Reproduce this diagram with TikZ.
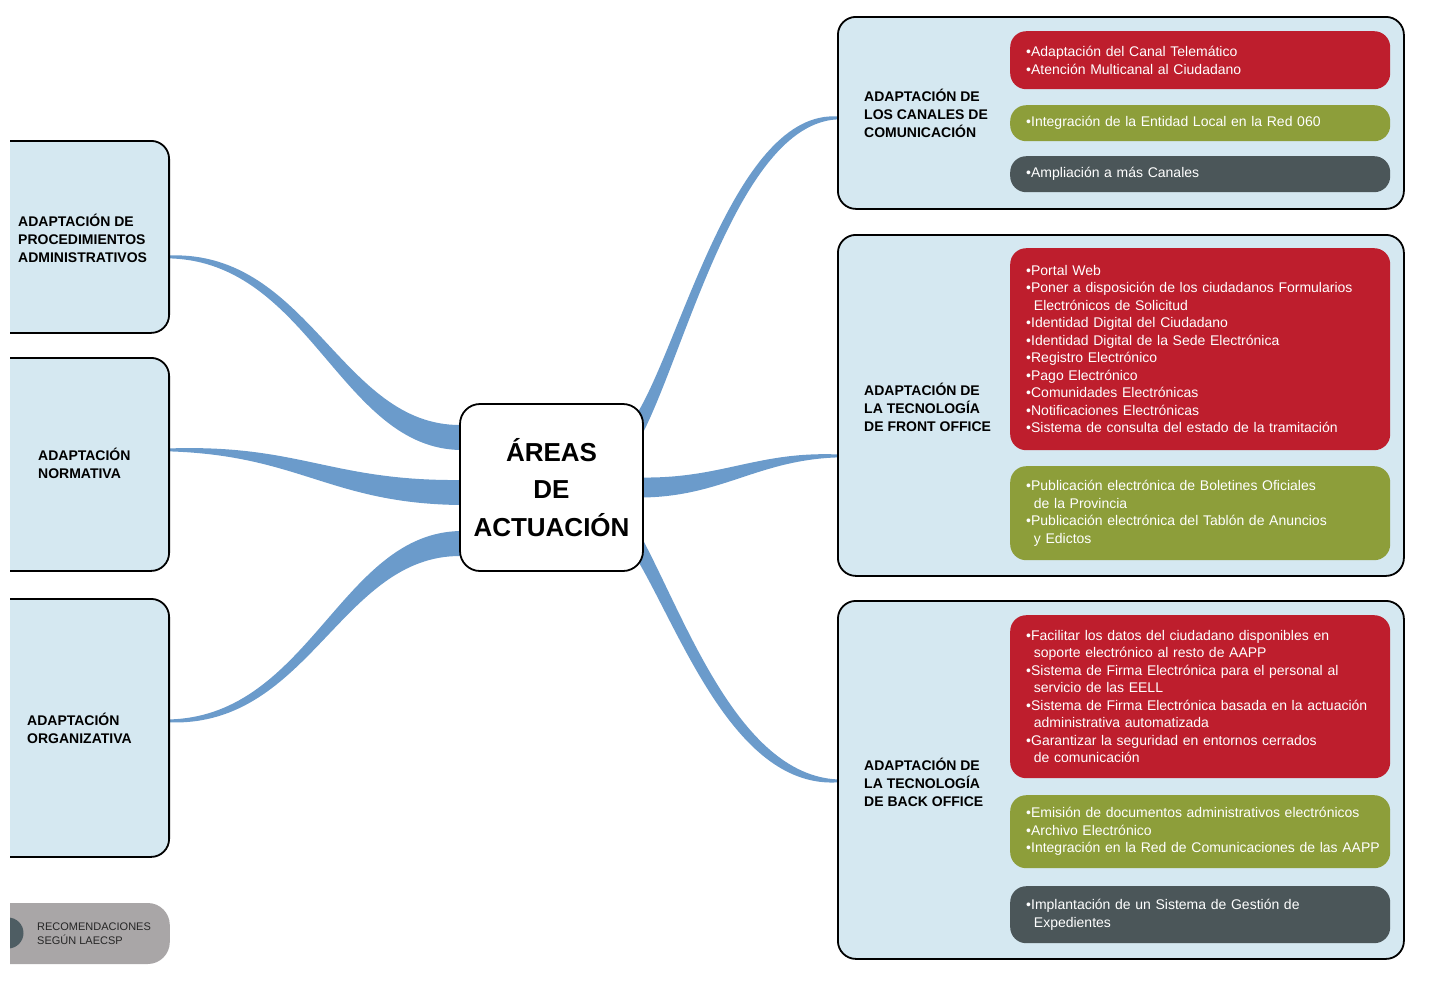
\documentclass[tikz,border=0pt]{standalone}
\usepackage{fontspec}
\setmainfont{Liberation Sans}
\usepackage{tikz}
\usetikzlibrary{calc,backgrounds}
\definecolor{pale}{HTML}{D5E8F1}
\definecolor{rojo}{HTML}{BE1E2D}
\definecolor{oliva}{HTML}{8D9E3A}
\definecolor{pizarra}{HTML}{4B5659}
\definecolor{cinta}{HTML}{6B9BCB}
\definecolor{leyenda}{HTML}{A9A6A7}
\definecolor{punto}{HTML}{4E5D63}
\tikzset{
  area/.style={draw=black,line width=1.8pt,fill=pale,rounded corners=18pt,inner sep=0pt},
  hub/.style={draw=black,line width=1.8pt,fill=white,rounded corners=20pt,minimum width=183pt,
    minimum height=167pt,align=center,font=\bfseries\fontsize{26}{37.5}\selectfont},
  head/.style={font=\bfseries\fontsize{14}{18}\selectfont,align=left,anchor=west,inner sep=0pt},
  item/.style={rounded corners=16pt,minimum width=380pt,text width=348pt,inner xsep=16pt,
    inner ysep=0pt,align=left,anchor=north west,text=white,font=\fontsize{14}{17.5}\selectfont},
  rib/.style={fill=cinta},
}
\newcommand{\sangria}{\hspace*{0.55em}}
\newcommand{\branch}[5]{%
  \fill[rib] ($(#1)+(0,-#5)$) .. controls ($(#1)+(#3)+(0,-0.9*#5)$) and ($(#2)+(#4)+(0,-0.45*#5)$) .. ($(#2)+(0,-1.5)$)
    -- ($(#2)+(0,1.5)$) .. controls ($(#2)+(#4)+(0,0.45*#5)$) and ($(#1)+(#3)+(0,0.9*#5)$) .. ($(#1)+(0,#5)$) -- cycle;
}

\begin{document}
\begin{tikzpicture}[x=1pt,y=-1pt]
\useasboundingbox (0,0) rectangle (1434,997);

\node[hub] (areas) at (551.5,487.5) {ÁREAS\\DE\\ACTUACIÓN};

\begin{scope}
\clip (10,0) rectangle (220,997);
\node[area,minimum width=200pt,minimum height=192pt,anchor=north east] (proc) at (170,140) {};
\node[area,minimum width=200pt,minimum height=213pt,anchor=north east] (norma) at (170,357) {};
\node[area,minimum width=200pt,minimum height=258pt,anchor=north east] (organ) at (170,598) {};
\node[fill=leyenda,rounded corners=22pt,minimum width=200pt,minimum height=61pt,anchor=east] (ley) at (170,933.5) {};
\fill[punto] (8,933) circle[radius=15.5pt];
\end{scope}
\node[head] (procT) at ($(proc.east)+(-152,1)$) {ADAPTACIÓN DE\\PROCEDIMIENTOS\\ADMINISTRATIVOS};
\node[head] (normaT) at ($(norma.east)+(-132,-1)$) {ADAPTACIÓN\\NORMATIVA};
\node[head] (organT) at ($(organ.east)+(-143,0)$) {ADAPTACIÓN\\ORGANIZATIVA};
\node[anchor=west,inner sep=0pt,align=left,text=black!85,font=\fontsize{11}{14}\selectfont] (leyT)
  at ($(ley.east)+(-133,0.5)$) {RECOMENDACIONES\\SEGÚN LAECSP};

\node[area,minimum width=566pt,minimum height=192pt,anchor=north west] (canales) at (837,16) {};
\node[area,minimum width=566pt,minimum height=341pt,anchor=north west] (front) at (837,234) {};
\node[area,minimum width=566pt,minimum height=358pt,anchor=north west] (back) at (837,600) {};
\node[head] (canalesT) at ($(canales.west)+(27,0)$) {ADAPTACIÓN DE\\LOS CANALES DE\\COMUNICACIÓN};
\node[head] (frontT) at ($(front.west)+(27,1.5)$) {ADAPTACIÓN DE\\LA TECNOLOGÍA\\DE FRONT OFFICE};
\node[head] (backT) at ($(back.west)+(27,2)$) {ADAPTACIÓN DE\\LA TECNOLOGÍA\\DE BACK OFFICE};

\node[item,fill=rojo,minimum height=58pt] (can1) at (1010,31)
  {•Adaptación del Canal Telemático\\•Atención Multicanal al Ciudadano};
\node[item,fill=oliva,minimum height=36pt] (can2) at (1010,105)
  {•Integración de la Entidad Local en la Red 060};
\node[item,fill=pizarra,minimum height=36pt] (can3) at (1010,156)
  {•Ampliación a más Canales};
\node[item,fill=rojo,minimum height=202pt] (fro1) at (1010,248)
  {•Portal Web\\•Poner a disposición de los ciudadanos Formularios\\\sangria Electrónicos de Solicitud\\
   •Identidad Digital del Ciudadano\\•Identidad Digital de la Sede Electrónica\\•Registro Electrónico\\
   •Pago Electrónico\\•Comunidades Electrónicas\\•Notificaciones Electrónicas\\
   •Sistema de consulta del estado de la tramitación};
\node[item,fill=oliva,minimum height=94pt] (fro2) at (1010,466)
  {•Publicación electrónica de Boletines Oficiales\\\sangria de la Provincia\\
   •Publicación electrónica del Tablón de Anuncios\\\sangria y Edictos};
\node[item,fill=rojo,minimum height=163pt] (bak1) at (1010,615)
  {•Facilitar los datos del ciudadano disponibles en\\\sangria soporte electrónico al resto de AAPP\\
   •Sistema de Firma Electrónica para el personal al\\\sangria servicio de las EELL\\
   •Sistema de Firma Electrónica basada en la actuación\\\sangria administrativa automatizada\\
   •Garantizar la seguridad en entornos cerrados\\\sangria de comunicación};
\node[item,fill=oliva,minimum height=73pt] (bak2) at (1010,795)
  {•Emisión de documentos administrativos electrónicos\\•Archivo Electrónico\\
   \mbox{•Integración en la Red de Comunicaciones de las AAPP}};
\node[item,fill=pizarra,minimum height=57pt] (bak3) at (1010,886)
  {•Implantación de un Sistema de Gestión de\\\sangria Expedientes};

\begin{scope}[on background layer]
\coordinate (l1a) at ($(areas.west)+(2,-50)$);
\coordinate (l1b) at ($(proc.east)+(0,20)$);
\coordinate (l2a) at ($(areas.west)+(2,5)$);
\coordinate (l2b) at ($(norma.east)+(0,-14.5)$);
\coordinate (l3a) at ($(areas.west)+(2,56)$);
\coordinate (l3b) at ($(organ.east)+(0,-7)$);
\coordinate (r1a) at ($(areas.east)+(-5,-62)$);
\coordinate (r1b) at ($(canales.west)+(0,5)$);
\coordinate (r2a) at ($(areas.east)+(-2,0)$);
\coordinate (r2b) at ($(front.west)+(0,50.5)$);
\coordinate (r3a) at ($(areas.east)+(-5,60)$);
\coordinate (r3b) at ($(back.west)+(0,1)$);
\branch{l1a}{l1b}{-120,0}{140,0}{12.5}
\branch{l2a}{l2b}{-130,0}{130,0}{12.5}
\branch{l3a}{l3b}{-120,0}{140,0}{12.5}
\branch{r1a}{r1b}{45,-80}{-100,0}{15}
\branch{r2a}{r2b}{80,0}{-80,0}{10}
\branch{r3a}{r3b}{45,80}{-100,0}{15}
\end{scope}
\end{tikzpicture}
\end{document}
